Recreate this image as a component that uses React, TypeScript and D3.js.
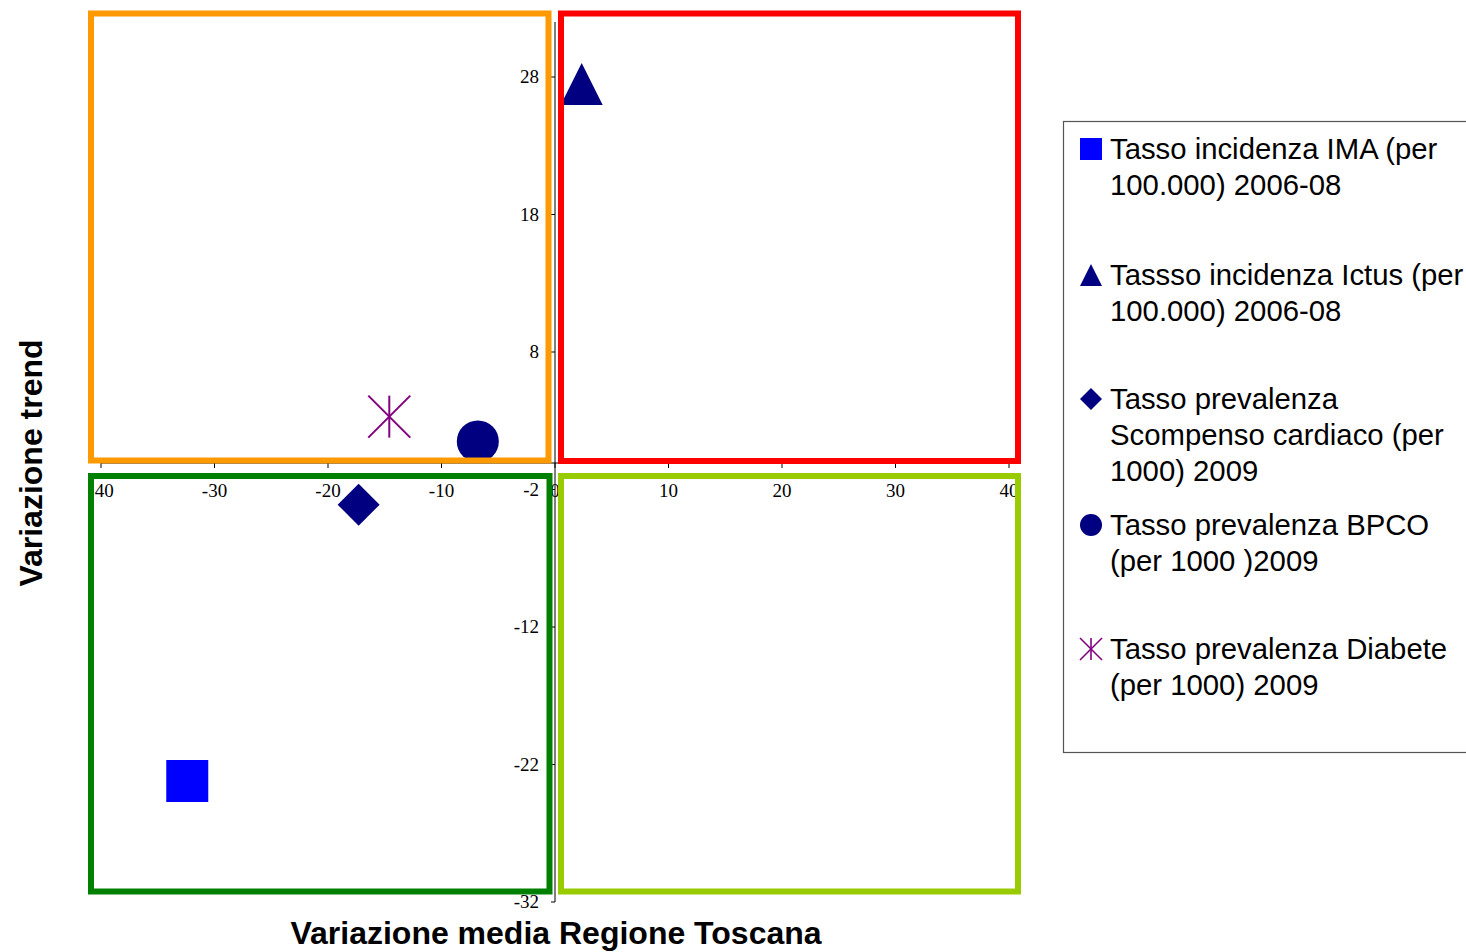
import React from "react";
import * as d3 from "d3";

const xTicks = [-40, -30, -20, -10, 0, 10, 20, 30, 40];
const yTicks = [28, 18, 8, -2, -12, -22, -32];

const seriesNames = [
  ["Tasso incidenza IMA (per", "100.000) 2006-08"],
  ["Tassso incidenza Ictus (per", "100.000) 2006-08"],
  ["Tasso prevalenza", "Scompenso cardiaco (per", "1000) 2009"],
  ["Tasso prevalenza BPCO", "(per 1000 )2009"],
  ["Tasso prevalenza Diabete", "(per 1000) 2009"],
];
const seriesShapes = ["square", "triangle", "diamond", "circle", "asterisk"];
const seriesColors = ["#0000FF", "#000080", "#000080", "#000080", "#800080"];
const seriesX = [-32.4, 2.35, -17.3, -6.8, -14.6];
const seriesY = [-23.2, 27.5, -3.1, 1.5, 3.3];

const W = 1466;
const H = 952;

function Marker({ shape, color, cx, cy, s }: { shape: string; color: string; cx: number; cy: number; s: number }) {
  if (shape === "square") return <rect x={cx - s} y={cy - s} width={2 * s} height={2 * s} fill={color} />;
  if (shape === "triangle")
    return <path d={`M${cx},${cy - s}L${cx + s},${cy + s}L${cx - s},${cy + s}Z`} fill={color} />;
  if (shape === "diamond")
    return <path d={`M${cx},${cy - s}L${cx + s},${cy}L${cx},${cy + s}L${cx - s},${cy}Z`} fill={color} />;
  if (shape === "circle") return <circle cx={cx} cy={cy} r={s} fill={color} />;
  return (
    <g stroke={color} strokeWidth={s > 15 ? 2 : 1.6}>
      <line x1={cx} y1={cy - s} x2={cx} y2={cy + s} />
      <line x1={cx - s} y1={cy - s} x2={cx + s} y2={cy + s} />
      <line x1={cx - s} y1={cy + s} x2={cx + s} y2={cy - s} />
    </g>
  );
}

export default function App() {
  const x = d3.scaleLinear().domain([-40, 40]).range([101, 1009]);
  const y = d3.scaleLinear().domain([-32, 32]).range([902, 22]);
  const x0 = x(0);
  const y0 = y(0);

  const quads = [
    { color: "#FF9900", x1: 91, x2: x0 - 6.5, y1: 13.5, y2: y0 - 1.5 },
    { color: "#FF0000", x1: x0 + 6, x2: 1018, y1: 13.5, y2: y0 - 1 },
    { color: "#008000", x1: 91, x2: x0 - 5.5, y1: y0 + 14, y2: 891.5 },
    { color: "#99CC00", x1: x0 + 6, x2: 1018, y1: y0 + 14, y2: 891.5 },
  ];

  const serif = "'Liberation Serif', 'DejaVu Serif', serif";
  const sans = "'Liberation Sans', Arial, sans-serif";
  const legendTop = [159, 285, 409, 535, 659];

  return (
    <svg width={W} height={H} style={{ position: "absolute", left: 0, top: 0, background: "#fff" }}>
      <rect x={0} y={0} width={W} height={H} fill="#fff" />
      {/* axes */}
      <line x1={x0} y1={y(32)} x2={x0} y2={y(-32)} stroke="#000" strokeWidth={1} />
      <line x1={x(-40)} y1={y0 + 1} x2={x(40)} y2={y0 + 1} stroke="#000" strokeWidth={1} />
      {xTicks.map((t) => (
        <g key={"xt" + t}>
          <line x1={x(t)} x2={x(t)} y1={y0 + 1} y2={y0 + 6} stroke="#000" />
          <text x={x(t)} y={497} fontFamily={serif} fontSize={19} textAnchor="middle" fill="#000">
            {t}
          </text>
        </g>
      ))}
      {yTicks.map((t) => (
        <g key={"yt" + t}>
          <line x1={x0 - 4} x2={x0} y1={y(t)} y2={y(t)} stroke="#000" />
          <text x={539} y={y(t) + 6} fontFamily={serif} fontSize={19} textAnchor="end" fill="#000">
            {t}
          </text>
        </g>
      ))}
      {/* markers */}
      {seriesX.map((v, i) => (
        <Marker key={"m" + i} shape={seriesShapes[i]} color={seriesColors[i]} cx={x(v)} cy={y(seriesY[i])} s={21} />
      ))}
      {/* quadrants */}
      {quads.map((q, i) => (
        <rect key={"q" + i} x={q.x1} y={q.y1} width={q.x2 - q.x1} height={q.y2 - q.y1} fill="none" stroke={q.color} strokeWidth={6} />
      ))}
      {/* axis titles */}
      <text x={556} y={944} fontFamily={sans} fontWeight="bold" fontSize={32} textAnchor="middle" fill="#000">
        Variazione media Regione Toscana
      </text>
      <text
        transform="translate(42,463) rotate(-90)"
        fontFamily={sans}
        fontWeight="bold"
        fontSize={32}
        textAnchor="middle"
        fill="#000"
      >
        Variazione trend
      </text>
      {/* legend */}
      <rect x={1063.5} y={121.5} width={420} height={631} fill="#fff" stroke="#555" strokeWidth={1.2} />
      {seriesNames.map((lines, i) => (
        <g key={"l" + i}>
          <Marker shape={seriesShapes[i]} color={seriesColors[i]} cx={1091} cy={legendTop[i] - 10} s={11} />
          {lines.map((ln, j) => (
            <text key={j} x={1110} y={legendTop[i] + j * 36} fontFamily={sans} fontSize={29.3} fill="#000">
              {ln}
            </text>
          ))}
        </g>
      ))}
    </svg>
  );
}
